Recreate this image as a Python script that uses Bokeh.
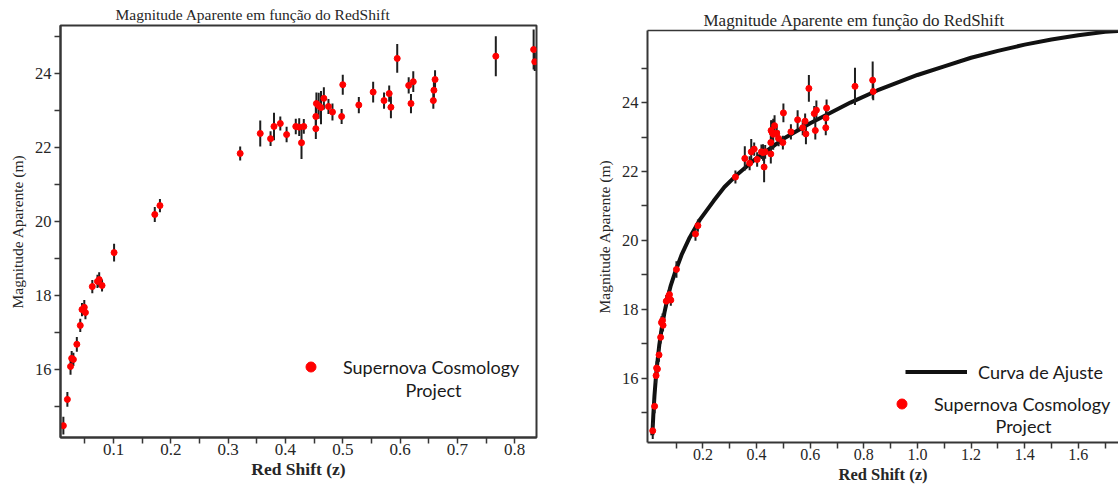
from bokeh.plotting import figure
from bokeh.layouts import row
from bokeh.models import (ColumnDataSource, FixedTicker, PrintfTickFormatter, LinearAxis,
                          Label, Legend, LegendItem, Range1d)
from bokeh.embed import file_html
from bokeh.resources import INLINE

# Supernova Cosmology Project sample: redshift, apparent magnitude and 1-sigma error
redshift = [0.0125, 0.0195, 0.025, 0.027, 0.030, 0.036, 0.042, 0.045, 0.049, 0.051,
            0.063, 0.072, 0.075, 0.080, 0.101, 0.172, 0.181, 0.321, 0.356, 0.374,
            0.380, 0.391, 0.402, 0.418, 0.424, 0.428, 0.432, 0.453, 0.453, 0.454,
            0.458, 0.462, 0.467, 0.475, 0.482, 0.498, 0.500, 0.528, 0.553, 0.572,
            0.581, 0.584, 0.595, 0.615, 0.619, 0.623, 0.658, 0.659, 0.661, 0.767,
            0.833, 0.835]
magnitude = [14.48, 15.19, 16.08, 16.30, 16.27, 16.68, 17.19, 17.62, 17.68, 17.54,
             18.24, 18.38, 18.43, 18.27, 19.16, 20.19, 20.43, 21.84, 22.38, 22.24,
             22.57, 22.65, 22.35, 22.57, 22.55, 22.13, 22.57, 22.51, 22.84, 23.19,
             23.13, 23.08, 23.33, 23.11, 22.96, 22.84, 23.70, 23.15, 23.50, 23.27,
             23.46, 23.09, 24.41, 23.68, 23.19, 23.78, 23.27, 23.55, 23.84, 24.47,
             24.65, 24.32]
mag_error = [0.24, 0.20, 0.22, 0.20, 0.18, 0.20, 0.18, 0.18, 0.20, 0.18,
             0.18, 0.18, 0.20, 0.16, 0.24, 0.20, 0.18, 0.19, 0.35, 0.20,
             0.37, 0.19, 0.21, 0.21, 0.24, 0.44, 0.20, 0.28, 0.30, 0.30,
             0.35, 0.45, 0.30, 0.20, 0.23, 0.20, 0.27, 0.22, 0.28, 0.22,
             0.22, 0.30, 0.39, 0.22, 0.26, 0.28, 0.22, 0.22, 0.25, 0.54,
             0.54, 0.25]

# fitted magnitude-redshift relation
fit_z = [0.011, 0.015, 0.019, 0.025, 0.031, 0.037, 0.046, 0.056, 0.067, 0.080,
         0.097, 0.12, 0.15, 0.19, 0.24, 0.28, 0.33, 0.40, 0.50, 0.60, 0.75, 0.85,
         1.00, 1.10, 1.20, 1.30, 1.40, 1.50, 1.60, 1.70, 1.75]
fit_mag = [14.35, 14.98, 15.5, 16.1, 16.55, 16.97, 17.45, 17.9, 18.3, 18.7,
           19.1, 19.58, 20.08, 20.62, 21.15, 21.55, 21.93, 22.39, 22.95, 23.4, 24.0,
           24.35, 24.8, 25.05, 25.3, 25.5, 25.68, 25.83, 25.95, 26.05, 26.08]

# axis ticks (labelled / unlabelled)
left_x_labelled = [0.1, 0.2, 0.3, 0.4, 0.5, 0.6, 0.7, 0.8]
left_x_plain = [0.05, 0.15, 0.25, 0.35, 0.45, 0.55, 0.65, 0.75]
right_x_labelled = [0.2, 0.4, 0.6, 0.8, 1.0, 1.2, 1.4, 1.6]
right_x_plain = [0.1, 0.3, 0.5, 0.7, 0.9, 1.1, 1.3, 1.5, 1.7]
y_labelled = [16, 18, 20, 22, 24]
y_plain = [15, 17, 19, 21, 23, 25]

TITLE = "Magnitude Aparente em função do RedShift"
SERIF = "Liberation Serif"
SANS = "Lato"
INK = "#262626"
AXIS = "#363636"

lo = [m - e for m, e in zip(magnitude, mag_error)]
hi = [m + e for m, e in zip(magnitude, mag_error)]


def make_source():
    return ColumnDataSource(dict(z=redshift, m=magnitude, lo=lo, hi=hi))


def style(p, x_major, x_minor, x_label_px, x_tick_px):
    p.xaxis.ticker = FixedTicker(ticks=x_major, minor_ticks=x_minor)
    p.yaxis.ticker = FixedTicker(ticks=y_labelled, minor_ticks=y_plain)
    p.xaxis.formatter = PrintfTickFormatter(format="%.1f")
    p.yaxis.formatter = PrintfTickFormatter(format="%d")
    for ax in (p.xaxis[0], p.yaxis[0]):
        ax.axis_line_color = AXIS
        ax.axis_line_width = 2
        ax.major_tick_line_color = AXIS
        ax.minor_tick_line_color = AXIS
        ax.major_tick_line_width = 1.5
        ax.minor_tick_line_width = 1.5
        ax.major_tick_in = 0
        ax.minor_tick_in = 0
        ax.major_tick_out = 6
        ax.minor_tick_out = 6
        ax.major_label_text_font = SERIF
        ax.major_label_text_color = INK
        ax.axis_label_text_font = SERIF
        ax.axis_label_text_color = INK
    p.xaxis.major_label_text_font_size = x_tick_px
    p.yaxis.major_label_text_font_size = "16.5px"
    p.xaxis.major_label_standoff = 0
    p.yaxis.major_label_standoff = 3
    p.xaxis.axis_label = "Red Shift (z)"
    p.xaxis.axis_label_text_font_size = x_label_px
    p.xaxis.axis_label_text_font_style = "bold"
    p.xaxis.axis_label_standoff = 1
    p.yaxis.axis_label = "Magnitude Aparente (m)"
    p.yaxis.axis_label_text_font_size = "15.5px"
    p.yaxis.axis_label_text_font_style = "normal"
    p.yaxis.axis_label_standoff = 6
    p.xgrid.visible = False
    p.ygrid.visible = False
    p.title.text = TITLE
    p.title.text_font = SERIF
    p.title.text_font_style = "normal"
    p.title.text_color = INK
    p.title.align = "left"
    p.title.standoff = 2


def legend(item, loc, glyph_w, standoff):
    return Legend(items=[item], location=loc, glyph_width=glyph_w, glyph_height=25,
                  label_height=25, label_standoff=standoff, padding=0, margin=0,
                  spacing=0, border_line_alpha=0, background_fill_alpha=0,
                  label_text_font=SANS, label_text_font_size="18px",
                  label_text_color="#1a1a1a")


def note(x, y):
    return Label(x=x, y=y, x_units="screen", y_units="screen", text="Project",
                 text_align="center", text_baseline="middle", text_font=SANS,
                 text_font_size="18px", text_color="#1a1a1a")


# ---- left panel: data only ----
left = figure(width=560, height=487, x_range=Range1d(0.0075, 0.838),
              y_range=Range1d(14.16, 25.3), output_backend="svg", toolbar_location=None,
              min_border_left=60, min_border_right=24, min_border_top=25,
              min_border_bottom=50, background_fill_color="white",
              border_fill_color="white", frame_align=False)
src_l = make_source()
left.segment(x0="z", y0="lo", x1="z", y1="hi", source=src_l, line_width=2,
             line_color="#1e1e1e")
pts_l = left.scatter("z", "m", source=src_l, size=6, color="#ff0000")
style(left, left_x_labelled, left_x_plain, "17.5px", "17px")
left.title.text_font_size = "15.5px"
left.title.offset = 55
left.title.standoff = 5
left.outline_line_color = AXIS
left.outline_line_width = 2
left.outline_line_alpha = 1
left.add_layout(legend(LegendItem(label="Supernova Cosmology", renderers=[pts_l]),
                       (238, 58), 25, 20))
left.add_layout(note(373, 48))

# ---- right panel: data with fitted curve ----
right = figure(width=558, height=487, x_range=Range1d(-0.007, 1.75),
               y_range=Range1d(14.14, 26.09), output_backend="svg",
               toolbar_location=None, min_border_left=87, min_border_right=0,
               min_border_top=30, min_border_bottom=45,
               background_fill_color="white", border_fill_color="white",
               frame_align=False)
right.outline_line_color = None
curve = right.line(fit_z, fit_mag, line_width=4, line_color="#111111")
src_r = make_source()
right.segment(x0="z", y0="lo", x1="z", y1="hi", source=src_r, line_width=2,
              line_color="#1e1e1e")
pts_r = right.scatter("z", "m", source=src_r, size=6, color="#ff0000")
style(right, right_x_labelled, right_x_plain, "16.5px", "16px")
right.xaxis.axis_label_standoff = 2
right.title.text_font_size = "17px"
right.title.offset = 56

top_edge = LinearAxis(ticker=FixedTicker(ticks=[]), major_tick_out=0, minor_tick_out=0,
                      major_tick_in=0, minor_tick_in=0, major_label_standoff=0,
                      axis_line_color=AXIS, axis_line_width=1.5)
right.add_layout(top_edge, "above")

right.add_layout(legend(LegendItem(label="Curva de Ajuste", renderers=[curve]),
                        (258, 58), 62, 11))
right.add_layout(legend(LegendItem(label="Supernova Cosmology", renderers=[pts_r]),
                        (242, 26), 25, 20))
right.add_layout(note(376, 17))

layout = row(left, right)
open("out.html", "w").write(file_html(layout, INLINE))
